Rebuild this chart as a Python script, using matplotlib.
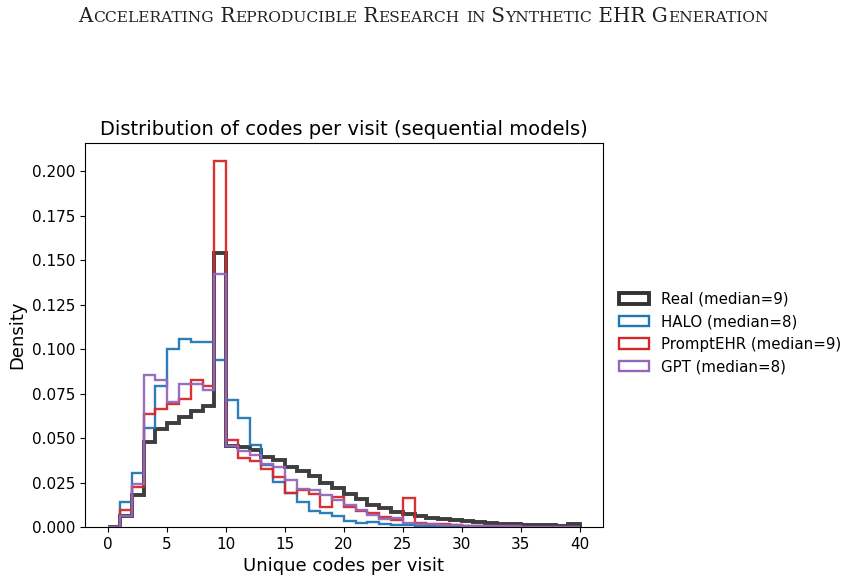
import numpy as np
import matplotlib.pyplot as plt
from matplotlib.patches import Patch

# histogram edges: unique codes per visit, 1-wide bins from 0 to 40
bin_edges = np.arange(0, 41, 1)

real_density = [
    0.0, 0.006, 0.0178, 0.048, 0.0553, 0.0585, 0.0618, 0.065, 0.068, 0.154,
    0.0455, 0.0448, 0.0433, 0.0395, 0.0377, 0.0340, 0.0314, 0.0288, 0.0250, 0.0218,
    0.0185, 0.0156, 0.0124, 0.0105, 0.0087, 0.0072, 0.0062, 0.0053, 0.0047, 0.0038,
    0.0032, 0.0026, 0.0021, 0.0017, 0.0015, 0.0013, 0.0011, 0.0009, 0.0008, 0.0019,
]
halo_density = [
    0.0, 0.0143, 0.0304, 0.0555, 0.0795, 0.1000, 0.1055, 0.1038, 0.1040, 0.0938,
    0.0717, 0.0614, 0.0461, 0.0350, 0.0255, 0.0192, 0.0140, 0.0088, 0.0080, 0.0062,
    0.0034, 0.0024, 0.0030, 0.0017, 0.0012, 0.0010, 0.0008, 0.0006, 0.0005, 0.0004,
    0.0003, 0.0003, 0.0002, 0.0002, 0.0001, 0.0001, 0.0001, 0.0001, 0.0001, 0.0001,
]
promptehr_density = [
    0.0, 0.0096, 0.0227, 0.0635, 0.0662, 0.0693, 0.0721, 0.0829, 0.0795, 0.2058,
    0.0490, 0.0390, 0.0369, 0.0326, 0.0280, 0.0192, 0.0210, 0.0185, 0.0114, 0.0170,
    0.0110, 0.0090, 0.0077, 0.0056, 0.0038, 0.0162, 0.0024, 0.0019, 0.0015, 0.0011,
    0.0008, 0.0006, 0.0005, 0.0004, 0.0003, 0.0002, 0.0002, 0.0001, 0.0001, 0.0001,
]
gpt_density = [
    0.0, 0.0062, 0.0244, 0.0856, 0.0825, 0.0702, 0.0806, 0.0806, 0.0772, 0.1422,
    0.0458, 0.0430, 0.0405, 0.0354, 0.0335, 0.0262, 0.0216, 0.0206, 0.0180, 0.0152,
    0.0124, 0.0094, 0.0066, 0.0047, 0.0049, 0.0024, 0.0019, 0.0015, 0.0013, 0.0010,
    0.0008, 0.0006, 0.0005, 0.0004, 0.0003, 0.0002, 0.0002, 0.0001, 0.0001, 0.0001,
]

series_labels = ["Real (median=9)", "HALO (median=8)",
                 "PromptEHR (median=9)", "GPT (median=8)"]
series_colors = ["#333333", "tab:blue", "tab:red", "tab:purple"]
series_widths = [2.8, 1.7, 1.7, 1.7]

header_text = "Accelerating Reproducible Research in Synthetic EHR Generation"


def small_caps(fig, text, x_center, y, size=12.5):
    """Fake small caps: capitals full size, the rest upper case and smaller."""
    renderer = fig.canvas.get_renderer()
    pieces = []
    for word_i, word in enumerate(text.split(" ")):
        if word_i > 0:
            pieces.append((" ", size))
        for ch in word:
            if ch.isupper():
                pieces.append((ch, size))
            else:
                pieces.append((ch.upper(), size * 0.78))
    # merge runs with the same size
    runs = []
    for s, sz in pieces:
        if runs and runs[-1][1] == sz:
            runs[-1][0] += s
        else:
            runs.append([s, sz])
    # measure
    widths = []
    for s, sz in runs:
        t = fig.text(0, 0, s.replace(" ", "\u00a0"), fontsize=sz,
                     family="DejaVu Serif")
        widths.append(t.get_window_extent(renderer).width)
        t.remove()
    total = sum(widths)
    fig_w = fig.get_figwidth() * fig.dpi
    x = x_center * fig_w - total / 2
    for (s, sz), w in zip(runs, widths):
        fig.text(x / fig_w, y, s.replace(" ", "\u00a0"), fontsize=sz,
                 family="DejaVu Serif", va="baseline", ha="left",
                 color="#222222")
        x += w


def main():
    fig = plt.figure(figsize=(8.47, 5.83), dpi=100)
    ax = fig.add_axes([0.100, 0.096, 0.612, 0.659])

    all_series = [real_density, halo_density, promptehr_density, gpt_density]
    handles = []
    for vals, lab, col, lw in zip(all_series, series_labels,
                                  series_colors, series_widths):
        ax.stairs(vals, bin_edges, fill=False, color=col, linewidth=lw,
                  alpha=0.95)
        handles.append(Patch(facecolor="none", edgecolor=col, linewidth=lw,
                             label=lab))

    ax.set_xlim(-2, 42)
    ax.margins(y=0.05)
    ax.set_ylim(bottom=0)
    ax.set_xticks(np.arange(0, 41, 5))
    ax.set_yticks(np.arange(0, 0.201, 0.025))
    ax.tick_params(labelsize=11)

    ax.set_title("Distribution of codes per visit (sequential models)",
                 fontsize=14)
    ax.set_xlabel("Unique codes per visit", fontsize=13)
    ax.set_ylabel("Density", fontsize=13)

    ax.legend(handles=handles, loc="center left",
              bbox_to_anchor=(1.005, 0.505), frameon=False, fontsize=10.8)

    small_caps(fig, header_text, 0.5, 0.963, size=14.3)

    fig.savefig("out.png", dpi=100)


if __name__ == "__main__":
    main()
